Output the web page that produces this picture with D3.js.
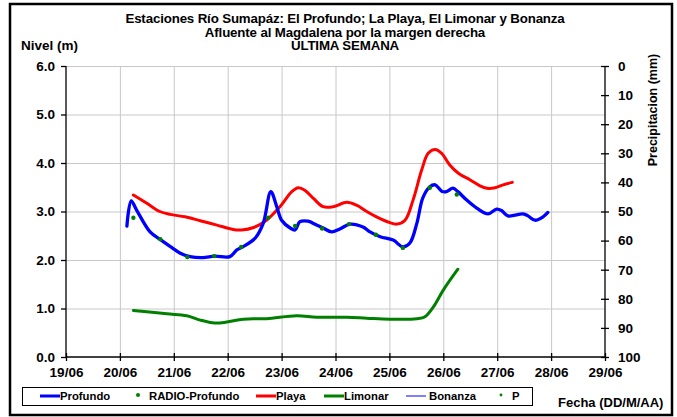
<!DOCTYPE html>
<html>
<head>
  <meta charset="utf-8">
  <script src="https://d3js.org/d3.v7.min.js"></script>
  <style>
    body { margin: 0; background: #fff; }
    svg { font-family: "Liberation Sans", Arial, sans-serif; font-weight: bold; }
  </style>
</head>
<body>
  <svg id="root" width="677" height="417"></svg>
  <script>
    // days as fractional June dates
    var profDays = [20.13, 20.21, 20.31, 20.56, 20.74, 20.93, 21.12, 21.30, 21.54, 21.76, 22.04, 22.17, 22.28, 22.51, 22.66, 22.80, 22.91, 23.00, 23.16, 23.25, 23.34, 23.49, 23.65, 23.77, 23.93, 24.08, 24.27, 24.51, 24.64, 24.83, 25.07, 25.25, 25.38, 25.51, 25.62, 25.75, 25.85, 25.97, 26.06, 26.18, 26.27, 26.43, 26.62, 26.83, 26.99, 27.08, 27.20, 27.48, 27.57, 27.70, 27.85, 27.94];
    var profVals = [2.70, 3.22, 3.03, 2.58, 2.43, 2.28, 2.14, 2.07, 2.05, 2.08, 2.07, 2.21, 2.27, 2.45, 2.76, 3.41, 3.10, 2.82, 2.66, 2.62, 2.79, 2.80, 2.72, 2.66, 2.58, 2.64, 2.74, 2.68, 2.58, 2.48, 2.41, 2.27, 2.35, 2.76, 3.28, 3.51, 3.55, 3.42, 3.41, 3.48, 3.41, 3.24, 3.07, 2.95, 3.05, 3.02, 2.91, 2.95, 2.91, 2.82, 2.89, 2.98];

    var radioDays = [20.25, 20.75, 21.25, 21.75, 22.25, 22.75, 23.25, 23.75, 24.25, 24.75, 25.25, 25.75, 26.25];
    var radioVals = [2.87, 2.43, 2.06, 2.08, 2.27, 2.87, 2.70, 2.65, 2.74, 2.52, 2.25, 3.49, 3.35];

    var playaDays = [20.25, 20.50, 20.74, 20.93, 21.21, 21.49, 21.80, 22.10, 22.26, 22.48, 22.72, 22.97, 23.19, 23.31, 23.43, 23.59, 23.77, 23.96, 24.21, 24.39, 24.58, 24.76, 25.01, 25.14, 25.29, 25.44, 25.60, 25.72, 25.85, 25.97, 26.12, 26.28, 26.50, 26.68, 26.81, 26.96, 27.11, 27.28];
    var playaVals = [3.34, 3.17, 3.00, 2.94, 2.89, 2.81, 2.72, 2.63, 2.62, 2.67, 2.82, 3.10, 3.41, 3.49, 3.44, 3.27, 3.10, 3.10, 3.19, 3.13, 3.00, 2.89, 2.77, 2.74, 2.82, 3.24, 3.86, 4.20, 4.28, 4.20, 3.96, 3.79, 3.65, 3.53, 3.48, 3.49, 3.55, 3.60];

    var limonDays = [20.25, 20.87, 21.24, 21.49, 21.76, 21.98, 22.29, 22.72, 23.28, 23.65, 24.21, 24.58, 25.01, 25.51, 25.66, 25.82, 26.00, 26.27];
    var limonVals = [0.96, 0.89, 0.85, 0.76, 0.70, 0.72, 0.78, 0.79, 0.85, 0.82, 0.82, 0.80, 0.78, 0.79, 0.83, 1.04, 1.38, 1.81];

    var dateTicks = [19, 20, 21, 22, 23, 24, 25, 26, 27, 28, 29];
    var levelTicks = [0, 1, 2, 3, 4, 5, 6];
    var rainTicks = [0, 10, 20, 30, 40, 50, 60, 70, 80, 90, 100];
    var titleLines = ['Estaciones Río Sumapáz: El Profundo; La Playa, El Limonar y Bonanza',
      'Afluente al Magdalena por la margen derecha', 'ULTIMA SEMANA'];

    var svg = d3.select('#root');
    var plotL = 66, plotR = 605, plotT = 66, plotB = 357;

    var x = d3.scaleLinear().domain([19, 29]).range([plotL, plotR]);
    var y = d3.scaleLinear().domain([0, 6]).range([plotB, plotT]);
    var yR = d3.scaleLinear().domain([0, 100]).range([plotT, plotB]);

    // outer frame
    svg.append('rect')
      .attr('x', 10).attr('y', 4).attr('width', 662).attr('height', 411)
      .attr('fill', 'none').attr('stroke', '#000').attr('stroke-width', 2.5);

    // titles
    svg.selectAll('.title')
      .data(titleLines)
      .enter()
      .append('text')
      .attr('class', 'title')
      .attr('x', 345)
      .attr('y', function (d, i) { return 23 + i * 13.5; })
      .attr('text-anchor', 'middle')
      .attr('font-size', 13.3)
      .attr('letter-spacing', -0.15)
      .text(function (d) { return d; });

    svg.append('text').attr('x', 21).attr('y', 50).attr('font-size', 13.5).text('Nivel (m)');

    // grid
    var grid = svg.append('g').attr('stroke', '#c8c8c8').attr('stroke-width', 1);
    grid.selectAll('.vg')
      .data(dateTicks.slice(1, -1))
      .enter()
      .append('line')
      .attr('x1', function (d) { return x(d) + 0.5; })
      .attr('x2', function (d) { return x(d) + 0.5; })
      .attr('y1', plotT).attr('y2', plotB);
    grid.selectAll('.hg')
      .data(levelTicks.slice(1))
      .enter()
      .append('line')
      .attr('x1', plotL).attr('x2', plotR)
      .attr('y1', function (d) { return y(d) + 0.5; })
      .attr('y2', function (d) { return y(d) + 0.5; });

    // axes
    var axL = svg.append('g')
      .attr('transform', 'translate(' + plotL + ',0)')
      .call(d3.axisLeft(y).tickValues(levelTicks).tickFormat(d3.format('.1f')).tickSize(5).tickPadding(6));
    var axB = svg.append('g')
      .attr('transform', 'translate(0,' + plotB + ')')
      .call(d3.axisBottom(x).tickValues(dateTicks).tickFormat(function (d) { return d + '/06'; }).tickSize(4).tickPadding(6));
    var axR = svg.append('g')
      .attr('transform', 'translate(' + plotR + ',0)')
      .call(d3.axisRight(yR).tickValues(rainTicks).tickSize(4).tickPadding(9));

    [axL, axB, axR].forEach(function (a) {
      a.select('.domain').attr('stroke', '#000').attr('stroke-width', 1.3);
      a.selectAll('line').attr('stroke', '#000').attr('stroke-width', 1.3);
      a.selectAll('text')
        .attr('font-family', '"Liberation Sans", Arial, sans-serif')
        .attr('font-weight', 'bold')
        .attr('font-size', 13.5)
        .attr('fill', '#000');
    });
    axB.select('.domain').attr('d', 'M' + plotL + ',0H' + plotR);
    axB.selectAll('.tick line').attr('y1', -4);
    axR.select('.domain').attr('d', 'M0,' + plotT + 'V' + plotB);
    axR.selectAll('.tick line').attr('x1', -4);
    axL.select('.domain').attr('d', 'M0,' + plotT + 'V' + plotB);

    svg.append('text')
      .attr('transform', 'translate(657,110) rotate(-90)')
      .attr('text-anchor', 'middle')
      .attr('font-size', 12.5)
      .text('Precipitacion (mm)');

    // series
    function drawLine(days, vals, color, width) {
      var pts = days.map(function (d, i) { return [d, vals[i]]; });
      svg.append('path')
        .datum(pts)
        .attr('fill', 'none')
        .attr('stroke', color)
        .attr('stroke-width', width)
        .attr('stroke-linejoin', 'round')
        .attr('stroke-linecap', 'round')
        .attr('d', d3.line()
          .curve(d3.curveCatmullRom.alpha(0.5))
          .x(function (p) { return x(p[0]); })
          .y(function (p) { return y(p[1]); }));
    }
    drawLine(limonDays, limonVals, '#008000', 3);
    drawLine(playaDays, playaVals, '#ff0000', 3);
    drawLine(profDays, profVals, '#0000ff', 3.3);

    svg.selectAll('.radio')
      .data(radioDays)
      .enter()
      .append('circle')
      .attr('class', 'radio')
      .attr('cx', function (d) { return x(d); })
      .attr('cy', function (d, i) { return y(radioVals[i]); })
      .attr('r', 2.2)
      .attr('fill', '#008000');

    // legend
    svg.append('rect')
      .attr('x', 22.5).attr('y', 387.5).attr('width', 510).attr('height', 18)
      .attr('fill', '#fff').attr('stroke', '#000').attr('stroke-width', 1);
    var legend = [
      { name: 'Profundo', type: 'line', color: '#0000ff', w: 3, x: 40 },
      { name: 'RADIO-Profundo', type: 'dot', color: '#008000', x: 138 },
      { name: 'Playa', type: 'line', color: '#ff0000', w: 3, x: 256 },
      { name: 'Limonar', type: 'line', color: '#008000', w: 3, x: 324 },
      { name: 'Bonanza', type: 'line', color: '#0000ff', w: 1, x: 406 },
      { name: 'P', type: 'dot', color: '#008000', x: 501 }
    ];
    var lg = svg.selectAll('.lg').data(legend).enter().append('g').attr('class', 'lg');
    lg.filter(function (d) { return d.type === 'line'; })
      .append('line')
      .attr('x1', function (d) { return d.x; })
      .attr('x2', function (d) { return d.x + 20; })
      .attr('y1', 396).attr('y2', 396)
      .attr('stroke', function (d) { return d.color; })
      .attr('stroke-width', function (d) { return d.w; });
    lg.filter(function (d) { return d.type === 'dot'; })
      .append('circle')
      .attr('cx', function (d) { return d.x; })
      .attr('cy', 395)
      .attr('r', function (d) { return d.name === 'P' ? 1.4 : 2; })
      .attr('fill', function (d) { return d.color; });
    lg.append('text')
      .attr('x', function (d) { return d.type === 'line' ? d.x + (d.w === 1 ? 23 : 20) : d.x + 11; })
      .attr('y', 400)
      .attr('font-size', 11.3)
      .text(function (d) { return d.name; });

    svg.append('text')
      .attr('x', 558).attr('y', 407)
      .attr('font-size', 13)
      .text('Fecha (DD/M/AA)');
  </script>
</body>
</html>
